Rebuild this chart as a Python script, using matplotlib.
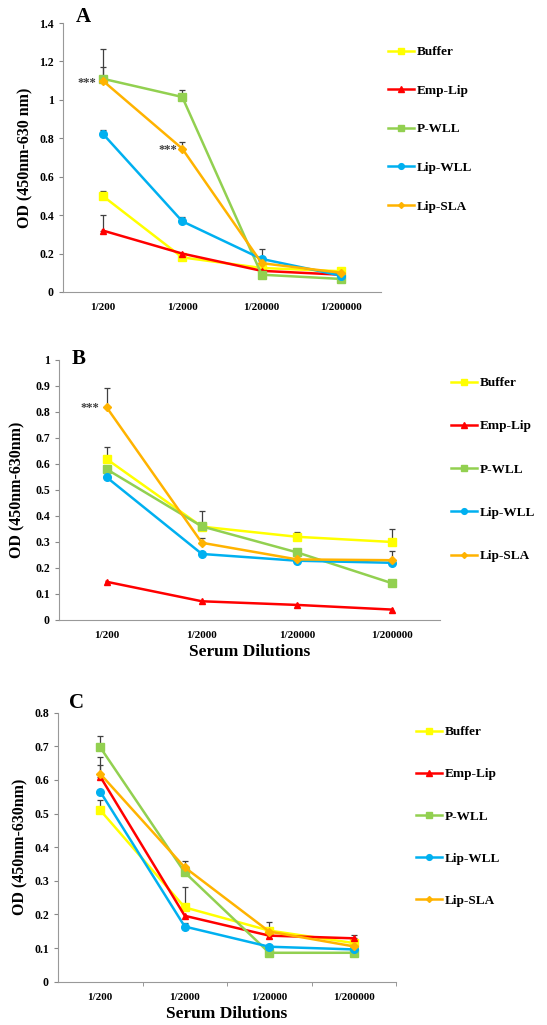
import matplotlib
matplotlib.use('Agg')
import matplotlib.pyplot as plt
from matplotlib.ticker import FuncFormatter, FixedLocator
import numpy as np

plt.rcParams['font.family'] = ['Liberation Serif', 'DejaVu Serif']
plt.rcParams['font.weight'] = 'bold'

# 数据
dilutions = ['1/200', '1/2000', '1/20000', '1/200000']
groups = ['Buffer', 'Emp-Lip', 'P-WLL', 'Lip-WLL', 'Lip-SLA']

a_buffer = [0.50, 0.18, 0.125, 0.108]
a_emp = [0.32, 0.20, 0.11, 0.09]
a_pwll = [1.11, 1.015, 0.09, 0.068]
a_lipwll = [0.824, 0.368, 0.172, 0.085]
a_lipsla = [1.10, 0.746, 0.15, 0.10]
a_err = [[0.025, 0, 0, 0], [0.08, 0, 0, 0], [0.155, 0.035, 0, 0],
         [0.02, 0.02, 0.05, 0], [0.07, 0.035, 0, 0]]

b_buffer = [0.619, 0.359, 0.32, 0.30]
b_emp = [0.147, 0.072, 0.058, 0.04]
b_pwll = [0.58, 0.36, 0.26, 0.141]
b_lipwll = [0.549, 0.254, 0.228, 0.22]
b_lipsla = [0.818, 0.297, 0.233, 0.23]
b_err = [[0.045, 0, 0.02, 0.05], [0, 0, 0, 0], [0, 0.06, 0.015, 0],
         [0, 0, 0, 0], [0.075, 0.02, 0, 0.035]]

c_buffer = [0.51, 0.221, 0.152, 0.115]
c_emp = [0.61, 0.196, 0.137, 0.129]
c_pwll = [0.697, 0.325, 0.086, 0.086]
c_lipwll = [0.565, 0.164, 0.104, 0.096]
c_lipsla = [0.618, 0.34, 0.149, 0.105]
c_err = [[0.03, 0.06, 0, 0], [0.035, 0, 0, 0.01], [0.035, 0, 0, 0],
         [0, 0.01, 0, 0], [0.05, 0.02, 0.03, 0]]

colors = ['#FFFF00', '#FF0000', '#92D050', '#00B0F0', '#FFB300']
markers = ['s', '^', 's', 'o', 'D']
msizes = [6, 5, 6, 5.5, 4]

W, H = 547, 1025
fig = plt.figure(figsize=(W / 100, H / 100), dpi=100)


def draw_panel(rect, series, errs, ymax, letter, letter_xy, ylabel, ylab_x,
               xlabel, leg_xy, leg_space, stars, minor_ticks):
    ax = fig.add_axes(rect)
    x = np.arange(len(dilutions))
    for i, vals in enumerate(series):
        ax.plot(x, vals, color=colors[i], marker=markers[i], ms=msizes[i],
                lw=1.8, label=groups[i], zorder=3)
    for i, vals in enumerate(series):
        for j, e in enumerate(errs[i]):
            if e > 0:
                ax.errorbar(x[j], vals[j], yerr=[[0], [e]], fmt='none',
                            ecolor='#404040', elinewidth=0.9, capsize=2,
                            capthick=0.9, zorder=2)
    ax.set_xlim(-0.5, 3.5)
    ax.set_ylim(0, ymax)
    ax.set_xticks(x)
    ax.set_xticklabels(dilutions, fontsize=8, fontweight='bold')
    ax.tick_params(axis='x', length=0, pad=8)
    if minor_ticks:
        ax.xaxis.set_minor_locator(FixedLocator([0.5, 1.5, 2.5, 3.5]))
        ax.tick_params(axis='x', which='minor', length=3, color='#888888')
    ax.set_yticks(np.round(np.arange(0, ymax + 0.001, 0.2 if ymax > 1.2 else 0.1), 2))
    ax.yaxis.set_major_formatter(FuncFormatter(lambda v, p: '%g' % v))
    ax.tick_params(axis='y', labelsize=8.5, length=3, color='#888888')
    for lab in ax.get_yticklabels():
        lab.set_fontweight('bold')
    for s in ['top', 'right']:
        ax.spines[s].set_visible(False)
    for s in ['left', 'bottom']:
        ax.spines[s].set_color('#999999')
    ax.set_ylabel(ylabel, fontsize=11.5, fontweight='bold')
    ax.yaxis.set_label_coords(ylab_x, 0.5)
    if xlabel:
        ax.set_xlabel(xlabel, fontsize=12.5, fontweight='bold', labelpad=3)
    fig.text(letter_xy[0] / W, 1 - letter_xy[1] / H, letter, fontsize=15,
             fontweight='bold', ha='left', va='center')
    for sx, sy in stars:
        ax.text(sx, sy, '***', fontsize=9, color='#404040', ha='right',
                va='center')
    ax.legend(loc='upper left', bbox_to_anchor=(leg_xy[0] / W, 1 - leg_xy[1] / H),
              bbox_transform=fig.transFigure, frameon=False,
              handlelength=2.0, handletextpad=0.15, labelspacing=leg_space,
              borderaxespad=0, borderpad=0, markerscale=0.75,
              prop={'weight': 'bold', 'size': 9.5})
    return ax


draw_panel([63 / W, 1 - 292 / H, 318 / W, 269 / H],
           [a_buffer, a_emp, a_pwll, a_lipwll, a_lipsla], a_err, 1.4,
           'A', (76, 17), 'OD (450nm-630 nm)', -0.094, None, (388, 46), 2.0,
           [(-0.08, 1.09), (0.94, 0.74)], False)

draw_panel([59 / W, 1 - 620 / H, 381 / W, 260 / H],
           [b_buffer, b_emp, b_pwll, b_lipwll, b_lipsla], b_err, 1.0,
           'B', (72, 359), 'OD (450nm-630nm)', -0.089, 'Serum Dilutions',
           (451, 377), 2.35, [(-0.08, 0.815)], False)

draw_panel([58 / W, 1 - 981.7 / H, 338 / W, 269 / H],
           [c_buffer, c_emp, c_pwll, c_lipwll, c_lipsla], c_err, 0.8,
           'C', (69, 703), 'OD (450nm-630nm)', -0.089, 'Serum Dilutions',
           (416, 726), 2.27, [], True)

fig.savefig('out.png', dpi=100)
